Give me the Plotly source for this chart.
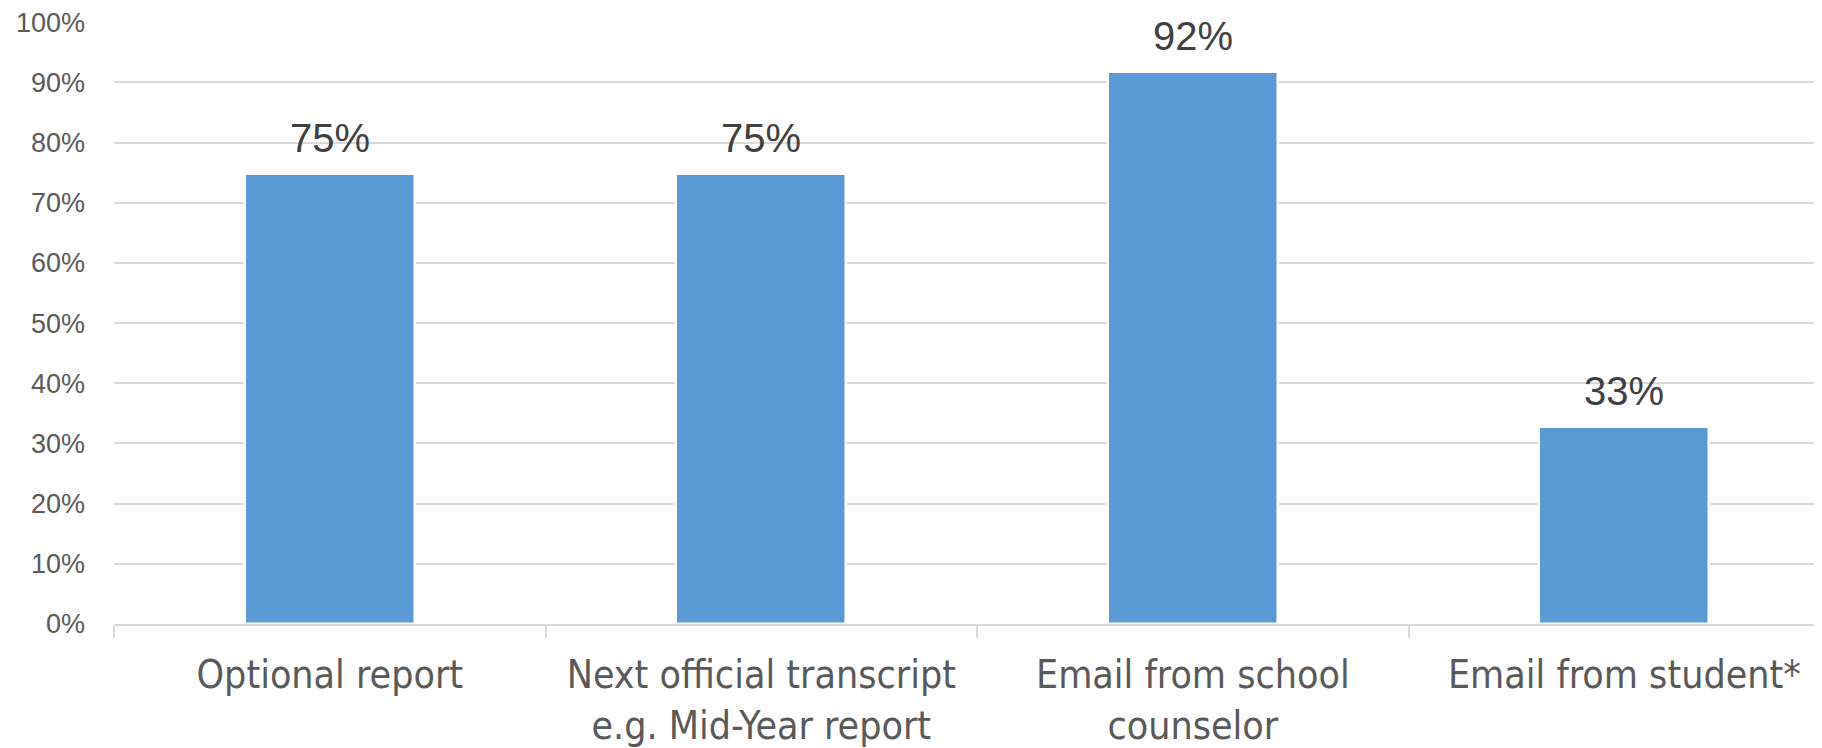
import plotly.graph_objects as go

categories = ["Optional report", "Next official transcript<br>e.g. Mid-Year report",
              "Email from school<br>counselor", "Email from student*"]
values = [74.7, 74.7, 91.7, 32.7]
value_labels = ["75%", "75%", "92%", "33%"]
y_ticks = [0, 10, 20, 30, 40, 50, 60, 70, 80, 90, 100]
y_tick_labels = ["0%", "10%", "20%", "30%", "40%", "50%", "60%", "70%", "80%", "90%", "100%"]

fig = go.Figure()
fig.add_trace(go.Bar(
    x=categories, y=values, width=0.394,
    marker=dict(color="#5B9BD5", line=dict(color="#ffffff", width=2.5)),
    hoverinfo="skip",
))
for c, v, t in zip(categories, values, value_labels):
    fig.add_annotation(x=c, y=v, text=t, showarrow=False, yanchor="bottom",
                       yshift=12, font=dict(family="Liberation Sans, Arial", size=40, color="#404040"))

# page body has an 8px margin, so the figure is sized to fill the rest of the window
fig.update_layout(
    width=1814, height=740,
    margin=dict(l=106, r=0, t=14, b=121),
    paper_bgcolor="white", plot_bgcolor="white",
    showlegend=False,
    bargap=0,
)
fig.update_xaxes(
    type="category", range=[-0.5, 3.458],
    tickson="boundaries", ticks="outside", ticklen=12, tickwidth=2, tickcolor="#d9d9d9",
    showline=True, linecolor="#d9d9d9", linewidth=2,
    showgrid=False, zeroline=False,
    tickfont=dict(family="Liberation Sans Narrow, DejaVu Sans Condensed, Roboto", size=39, color="#595959"),
    ticklabelstandoff=15,
)
fig.update_yaxes(
    range=[0, 100.02], tickvals=y_ticks, ticktext=y_tick_labels,
    showgrid=True, gridcolor="#d9d9d9", gridwidth=1.5,
    zeroline=False, showline=False,
    tickfont=dict(family="Liberation Sans, Arial", size=27, color="#595959"),
    ticklabelstandoff=28, ticklabeloverflow="allow",
)
fig.write_html("out.html")
